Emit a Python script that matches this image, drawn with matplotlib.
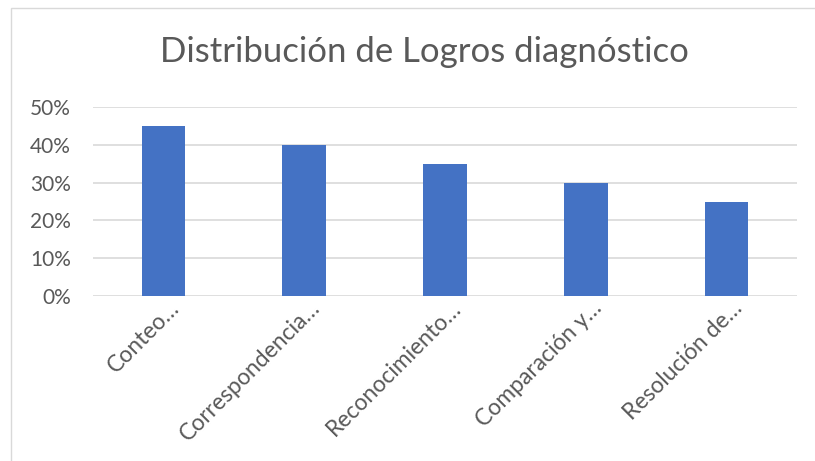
import matplotlib
matplotlib.use("Agg")
import matplotlib.pyplot as plt
from matplotlib.patches import Rectangle
from matplotlib.ticker import FuncFormatter
import matplotlib.transforms as mtransforms

categories = ["Conteo…", "Correspondencia…", "Reconocimiento…", "Comparación y…", "Resolución de…"]
values = [0.45, 0.40, 0.35, 0.30, 0.25]
yticks = [0, 0.1, 0.2, 0.3, 0.4, 0.5]
title = "Distribución de Logros diagnóstico"

W, H = 815, 461
fig = plt.figure(figsize=(W / 100, H / 100), dpi=100)
fig.patch.set_facecolor("white")

txt = "#595959"
grid = "#D9D9D9"
bar_color = "#4472C4"

# chart border
fig.add_artist(Rectangle((11 / W, -0.1), 1.2, 1 - 8 / H + 0.1, transform=fig.transFigure,
                         fill=False, edgecolor="#D9D9D9", linewidth=1.0))

ax = fig.add_axes([93 / W, 1 - 296 / H, (797 - 93) / W, (296 - 107) / H])
x = list(range(len(categories)))
ax.bar(x, values, width=0.31, color=bar_color, zorder=3)
ax.set_xlim(-0.5, len(categories) - 0.5)
ax.set_ylim(0, 0.5)
ax.set_yticks(yticks)
ax.yaxis.set_major_formatter(FuncFormatter(lambda v, p: f"{v*100:.0f}%"))
ax.grid(axis="y", color=grid, linewidth=1.2, zorder=0)
for s in ax.spines.values():
    s.set_visible(False)
ax.tick_params(axis="y", length=0, pad=16, labelsize=15, labelcolor=txt)
ax.tick_params(axis="x", length=0)
for lab in ax.get_yticklabels():
    lab.set_fontfamily("Lato")
ax.set_xticks(x)
ax.set_xticklabels([])

offset = mtransforms.ScaledTranslation(17 / 100, -13 / 100, fig.dpi_scale_trans)
for xi, c in zip(x, categories):
    ax.text(xi, 0, c, transform=ax.get_xaxis_transform() + offset, rotation=45,
            rotation_mode="anchor", ha="right", va="baseline", fontsize=16.5,
            color=txt, family="Lato")

fig.text((163 + 685) / 2 / W, 1 - 52 / H, title, ha="center", va="center",
         fontsize=25, color=txt, family="Lato")

fig.savefig("out.png", dpi=100)
